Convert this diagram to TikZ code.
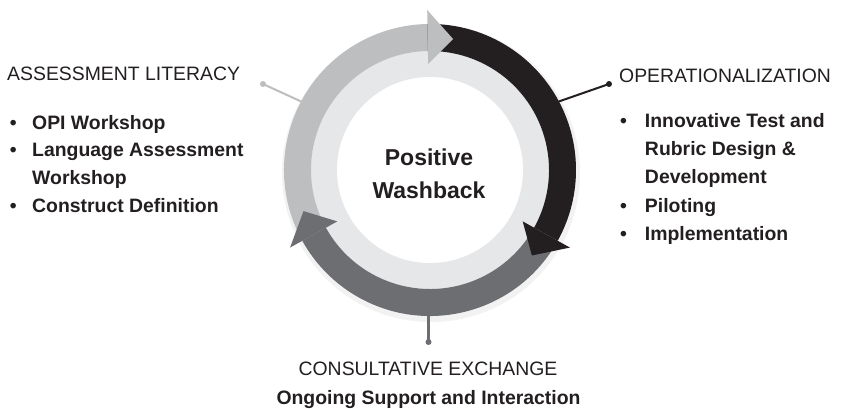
\documentclass[tikz,border=0pt]{standalone}
\usepackage{fontspec}
\setmainfont{Liberation Sans}
\usepackage{xcolor}
\usepackage{tikz}
\usetikzlibrary{positioning,calc}

\definecolor{arcLight}{HTML}{BCBEC0}
\definecolor{arcDark}{HTML}{231F20}
\definecolor{arcMid}{HTML}{6D6E71}
\definecolor{ringFill}{HTML}{E6E7E8}
\definecolor{txtDark}{HTML}{231F20}

\begin{document}
\begin{tikzpicture}[
    x=1pt, y=1pt,
    stageTitle/.style={font=\fontsize{19.4}{23}\selectfont, text=txtDark, inner sep=0pt},
    stageItems/.style={font=\fontsize{19.4}{#1}\selectfont\bfseries, text=txtDark, inner sep=0pt},
    hubText/.style={font=\fontsize{23}{33}\selectfont\bfseries, text=txtDark, align=center, inner sep=0pt},
    tack/.style={circle, fill=#1, inner sep=0pt, minimum size=6pt},
    leader/.style={line width=2pt, draw=#1}
]
\useasboundingbox (0,0) rectangle (841,408);

% === Cycle ===
\coordinate (c) at (430,238);
\fill[black, opacity=0.05] ($(c)+(1,-3)$) circle[radius=149];
\fill[ringFill] (c) circle[radius=119];
\fill[white] (c) circle[radius=93];

% arc bodies, clockwise
\foreach \from/\to/\col in {209/91/arcLight, 91/-29/arcDark, -29/-151/arcMid} {
    \fill[\col] ($(c)+(\from:146)$) arc[start angle=\from, end angle=\to, radius=146]
        -- ($(c)+(\to:119)$) arc[start angle=\to, end angle=\from, radius=119] -- cycle;
}
% arrow heads
\foreach \base/\col in {91/arcLight, -29/arcDark, -151/arcMid} {
    \fill[\col] ($(c)+(\base:106)$) -- ($(c)+(\base:160)$) -- ($(c)+(\base-11:133)$) -- cycle;
}

\node[hubText] (hub) at (429,234.5) {Positive\\Washback};

% === Leaders ===
\coordinate (ringL) at ($(c)+(152:146)$);
\coordinate (ringR) at ($(c)+(28:146)$);
\coordinate (ringB) at (428.5,92);
\node[tack=arcLight] (tackL) at (263,324) {};
\node[tack=arcDark] (tackR) at (609,324) {};
\node[tack=arcMid] (tackB) at (428.5,66) {};
\draw[leader=arcLight] (ringL) -- (tackL.center);
\draw[leader=arcDark] (ringR) -- (tackR.center);
\draw[leader=arcMid, line width=2.5pt] (ringB) -- (tackB.center);

% === Assessment literacy ===
\node[stageTitle, anchor=base west] (litTitle) at (7,327) {ASSESSMENT LITERACY};
\node[stageItems=27.7, anchor=base west] (litList) at (9.6,279) {%
    \begin{tabular}[t]{@{}l@{\hspace{15.6pt}}l@{}}
    \textbullet & OPI Workshop\\
    \textbullet & Language Assessment\\
                & Workshop\\
    \textbullet & Construct Definition
    \end{tabular}};

% === Operationalization ===
\node[stageTitle, anchor=base west] (opTitle) at (619,326) {OPERATIONALIZATION};
\node[stageItems=28.5, anchor=base west] (opList) at (620,281) {%
    \begin{tabular}[t]{@{}l@{\hspace{18pt}}l@{}}
    \textbullet & Innovative Test and\\
                & Rubric Design \&\\
                & Development\\
    \textbullet & Piloting\\
    \textbullet & Implementation
    \end{tabular}};

% === Consultative exchange ===
\node[stageTitle, anchor=base] (talkTitle) at (428,33) {CONSULTATIVE EXCHANGE};
\node[stageItems=23, anchor=base] (talkSub) at (428.5,4) {Ongoing Support and Interaction};
\end{tikzpicture}
\end{document}
